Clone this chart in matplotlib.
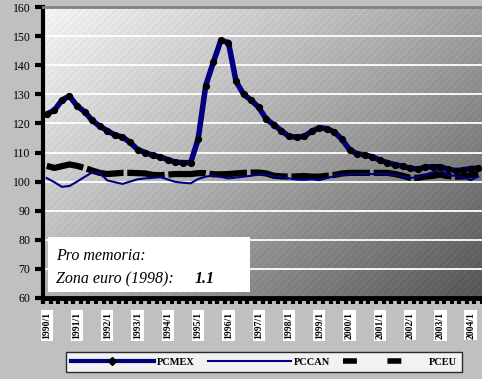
import numpy as np
import matplotlib
matplotlib.use("Agg")
import matplotlib.pyplot as plt
from matplotlib.lines import Line2D

# quarterly index, 1990/1 .. 2004/2
pcmex = [123.2, 124.5, 128.0, 129.4, 126.0, 124.0, 121.0, 119.0, 117.5, 116.0,
         115.3, 113.5, 111.0, 110.0, 109.0, 108.5, 107.5, 106.7, 106.5, 106.5,
         114.6, 133.0, 141.0, 148.5, 147.8, 134.5, 130.0, 128.0, 125.5, 121.5,
         119.5, 117.5, 115.5, 115.3, 115.5, 117.3, 118.5, 118.2, 117.0, 114.5,
         111.0, 109.5, 109.2, 108.5, 107.4, 106.5, 105.8, 105.3, 104.6, 104.3,
         105.0, 105.1, 105.1, 104.3, 103.8, 104.0, 104.5, 104.6]
pccan = [101.2, 99.8, 98.2, 98.5, 100.0, 101.6, 103.2, 102.9, 100.4, 99.8,
         99.2, 100.0, 100.8, 101.1, 101.3, 101.6, 100.7, 99.9, 99.6, 99.4,
         100.9, 101.7, 102.1, 101.6, 101.1, 101.4, 101.7, 102.0, 102.4, 102.3,
         101.8, 101.5, 101.1, 100.7, 100.6, 100.8, 100.5, 101.2, 101.9, 102.2,
         102.5, 102.6, 102.6, 102.6, 102.6, 102.5, 102.2, 101.8, 101.2, 101.6,
         102.4, 103.2, 104.0, 102.2, 102.0, 101.5, 100.5, 101.7]
pceu = [105.4, 104.7, 105.3, 105.9, 105.4, 104.7, 103.8, 103.0, 102.6, 102.8,
        103.0, 103.0, 102.9, 102.8, 102.3, 102.2, 102.4, 102.6, 102.6, 102.6,
        102.9, 102.9, 102.5, 102.5, 102.6, 102.8, 103.0, 103.1, 103.1, 102.8,
        102.0, 101.8, 101.7, 101.8, 101.9, 101.7, 101.7, 102.0, 102.3, 102.8,
        103.0, 103.0, 103.0, 103.0, 103.0, 103.0, 102.6, 102.0, 101.3, 101.3,
        101.7, 102.0, 102.4, 101.9, 101.7, 101.8, 102.2, 102.6]
years = list(range(1990, 2005))
tick_labels = [f"{y}/1" for y in years]
yticks = [60, 70, 80, 90, 100, 110, 120, 130, 140, 150, 160]

serif = "Liberation Serif"
n = len(pcmex)
x = np.arange(n)

fig = plt.figure(figsize=(4.82, 3.79), dpi=100)
fig.patch.set_facecolor("#c0c0c0")
ax = fig.add_axes([43/482, 1-298/379, 439/482, 291/379])
ax.set_xlim(-0.5, n - 0.5)
ax.set_ylim(60, 160)

# gradient background with fine diagonal texture
h, w = 291, 439
rows, cols = np.mgrid[0:h, 0:w]
t = 0.55 * cols / w + 0.45 * rows / h
bg = 0.94 - 0.62 * t**1.1
bg = bg + 0.025 * (((cols + rows) % 7) < 3)
bg = np.clip(bg, 0, 1)
ax.imshow(bg, cmap="gray", vmin=0, vmax=1, extent=[0, 1, 0, 1],
          transform=ax.transAxes, aspect="auto", zorder=0, interpolation="nearest")

for v in yticks[1:-1]:
    ax.axhline(v, color="white", lw=1.3, zorder=1)

ax.plot(x, pceu, color="black", lw=4.5, dashes=(6, 0.6), zorder=3,
        solid_capstyle="butt")
ax.plot(x, pccan, color="#000080", lw=1.5, zorder=4)
ax.plot(x, pcmex, color="#000080", lw=4, marker="o", ms=4.2,
        mfc="black", mec="black", zorder=5)

for s in ["right", "bottom"]:
    ax.spines[s].set_visible(False)
ax.spines["top"].set_color("#808080")
ax.spines["top"].set_linewidth(2)
ax.spines["left"].set_linewidth(3)
ax.spines["left"].set_color("black")
ax.axhline(60, color="black", lw=3.5, zorder=6, clip_on=False)

ax.set_yticks(yticks)
ax.set_yticklabels([str(v) for v in yticks], fontfamily=serif, fontsize=8.5)
ax.tick_params(axis="y", length=6, width=3, color="black", pad=3)

ax.set_xticks(x[::4])
ax.set_xticklabels(tick_labels, rotation=90, fontfamily=serif, fontsize=7,
                   fontweight="bold")
for lab in ax.get_xticklabels():
    lab.set_bbox(dict(facecolor="white", edgecolor="none", pad=1.2))
ax.set_xticks(np.arange(-0.5, n), minor=True)
ax.tick_params(axis="x", which="major", length=0, pad=10)
ax.tick_params(axis="x", which="minor", length=4, width=3, color="black")

# note box
ax.add_patch(plt.Rectangle((0.011, 0.02), 0.46, 0.19, transform=ax.transAxes,
                           facecolor="white", edgecolor="none", zorder=7))
ax.text(0.03, 0.145, "Pro memoria:", transform=ax.transAxes, fontfamily=serif,
        style="italic", fontsize=11.5, va="center", zorder=8)
ax.text(0.03, 0.065, "Zona euro (1998):", transform=ax.transAxes,
        fontfamily=serif, style="italic", fontsize=11.5, va="center", zorder=8)
ax.text(0.345, 0.065, "1.1", transform=ax.transAxes, fontfamily=serif,
        style="italic", fontweight="bold", fontsize=11.5, va="center", zorder=8)

handles = [
    Line2D([], [], color="#000080", lw=3, marker="D", ms=4, mfc="black", mec="black"),
    Line2D([], [], color="#000080", lw=1.5),
    Line2D([], [], color="black", lw=4, dashes=(2.5, 5.5)),
]
leg = fig.legend(handles, ["PCMEX", "PCCAN", "PCEU"], loc="center",
                 bbox_to_anchor=(264/482, 1-362/379), ncol=3, frameon=True,
                 fancybox=False, handlelength=8, columnspacing=1.2,
                 handletextpad=0.3, borderpad=0.5,
                 prop={"family": serif, "weight": "bold", "size": 7.5})
leg.get_frame().set_edgecolor("black")
leg.get_frame().set_linewidth(1)

fig.savefig("out.png", dpi=100, facecolor=fig.get_facecolor())
